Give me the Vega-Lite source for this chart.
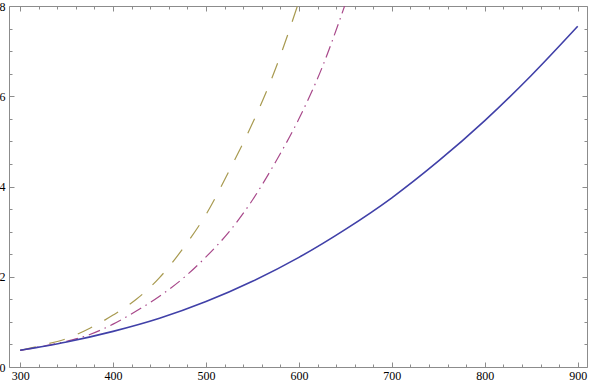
{
  "$schema": "https://vega.github.io/schema/vega-lite/v6.json",
  "width": 578,
  "height": 361,
  "autosize": "none",
  "padding": {"left": 9, "top": 6, "right": 4, "bottom": 15},
  "background": "white",
  "config": {
    "view": {"stroke": "#8c8c8c", "strokeWidth": 1},
    "axis": {"grid": false, "labelFont": "Liberation Serif", "labelFontSize": 12, "labelColor": "#000", "tickColor": "#8c8c8c", "domain": false}
  },
  "data": {
    "values": [
      {"s": "a", "x": 300, "y": 0.37}, {"s": "a", "x": 350, "y": 0.555}, {"s": "a", "x": 400, "y": 0.79},
      {"s": "a", "x": 450, "y": 1.08}, {"s": "a", "x": 500, "y": 1.45}, {"s": "a", "x": 550, "y": 1.9},
      {"s": "a", "x": 600, "y": 2.43}, {"s": "a", "x": 650, "y": 3.05}, {"s": "a", "x": 700, "y": 3.75},
      {"s": "a", "x": 750, "y": 4.56}, {"s": "a", "x": 800, "y": 5.46}, {"s": "a", "x": 850, "y": 6.46},
      {"s": "a", "x": 900, "y": 7.55},
      {"s": "b", "x": 300, "y": 0.37}, {"s": "b", "x": 325, "y": 0.46}, {"s": "b", "x": 350, "y": 0.57},
      {"s": "b", "x": 375, "y": 0.72}, {"s": "b", "x": 400, "y": 0.95}, {"s": "b", "x": 425, "y": 1.24},
      {"s": "b", "x": 450, "y": 1.57}, {"s": "b", "x": 475, "y": 1.96}, {"s": "b", "x": 500, "y": 2.44},
      {"s": "b", "x": 525, "y": 3.0}, {"s": "b", "x": 550, "y": 3.7}, {"s": "b", "x": 575, "y": 4.55},
      {"s": "b", "x": 600, "y": 5.5}, {"s": "b", "x": 625, "y": 6.64}, {"s": "b", "x": 650, "y": 8.05},
      {"s": "c", "x": 300, "y": 0.37}, {"s": "c", "x": 325, "y": 0.49}, {"s": "c", "x": 350, "y": 0.63},
      {"s": "c", "x": 375, "y": 0.86}, {"s": "c", "x": 400, "y": 1.15}, {"s": "c", "x": 425, "y": 1.5},
      {"s": "c", "x": 450, "y": 1.98}, {"s": "c", "x": 475, "y": 2.62}, {"s": "c", "x": 500, "y": 3.38},
      {"s": "c", "x": 525, "y": 4.35}, {"s": "c", "x": 550, "y": 5.4}, {"s": "c", "x": 575, "y": 6.62},
      {"s": "c", "x": 600, "y": 8.1}
    ]
  },
  "encoding": {
    "x": {"field": "x", "type": "quantitative", "scale": {"domain": [288, 910], "nice": false, "zero": false}},
    "y": {"field": "y", "type": "quantitative", "scale": {"domain": [0, 8], "nice": false}}
  },
  "layer": [
    {
      "transform": [{"filter": "datum.s === 'c'"}],
      "mark": {"type": "line", "interpolate": "monotone", "clip": true, "color": "#a89a50", "strokeWidth": 1.2, "strokeDash": [16, 14]},
      "encoding": {
        "x": {"field": "x", "type": "quantitative", "axis": {"orient": "bottom", "values": [300, 400, 500, 600, 700, 800, 900], "ticks": false, "labelPadding": 3, "title": null, "labelFont": "Liberation Serif", "labelFontSize": 12}},
        "y": {"field": "y", "type": "quantitative", "axis": {"orient": "left", "values": [0, 2, 4, 6, 8], "ticks": false, "labelPadding": 4, "title": null, "labelFont": "Liberation Serif", "labelFontSize": 12}}
      }
    },
    {
      "transform": [{"filter": "datum.s === 'b'"}],
      "mark": {"type": "line", "interpolate": "monotone", "clip": true, "color": "#a8488a", "strokeWidth": 1.2, "strokeDash": [12, 5, 1.5, 5]},
      "encoding": {
        "x": {"field": "x", "type": "quantitative", "axis": {"orient": "top", "labels": false, "title": null,
          "values": [300,320,340,360,380,400,420,440,460,480,500,520,540,560,580,600,620,640,660,680,700,720,740,760,780,800,820,840,860,880,900],
          "tickSize": {"condition": {"test": "datum.value % 100 === 0", "value": -5}, "value": -3}}},
        "y": {"field": "y", "type": "quantitative", "axis": {"orient": "right", "labels": false, "title": null,
          "values": [0,0.5,1,1.5,2,2.5,3,3.5,4,4.5,5,5.5,6,6.5,7,7.5,8],
          "tickSize": {"condition": {"test": "datum.value % 2 === 0", "value": -5}, "value": -3}}}
      }
    },
    {
      "transform": [{"filter": "datum.s === 'a'"}],
      "mark": {"type": "line", "interpolate": "monotone", "clip": true, "color": "#4040a8", "strokeWidth": 1.6},
      "encoding": {
        "x": {"field": "x", "type": "quantitative", "axis": {"orient": "bottom", "labels": false, "title": null,
          "values": [300,320,340,360,380,400,420,440,460,480,500,520,540,560,580,600,620,640,660,680,700,720,740,760,780,800,820,840,860,880,900],
          "tickSize": {"condition": {"test": "datum.value % 100 === 0", "value": -5}, "value": -3}}},
        "y": {"field": "y", "type": "quantitative", "axis": {"orient": "left", "labels": false, "title": null,
          "values": [0,0.5,1,1.5,2,2.5,3,3.5,4,4.5,5,5.5,6,6.5,7,7.5,8],
          "tickSize": {"condition": {"test": "datum.value % 2 === 0", "value": -5}, "value": -3}}}
      }
    }
  ],
  "resolve": {"axis": {"x": "independent", "y": "independent"}}
}
